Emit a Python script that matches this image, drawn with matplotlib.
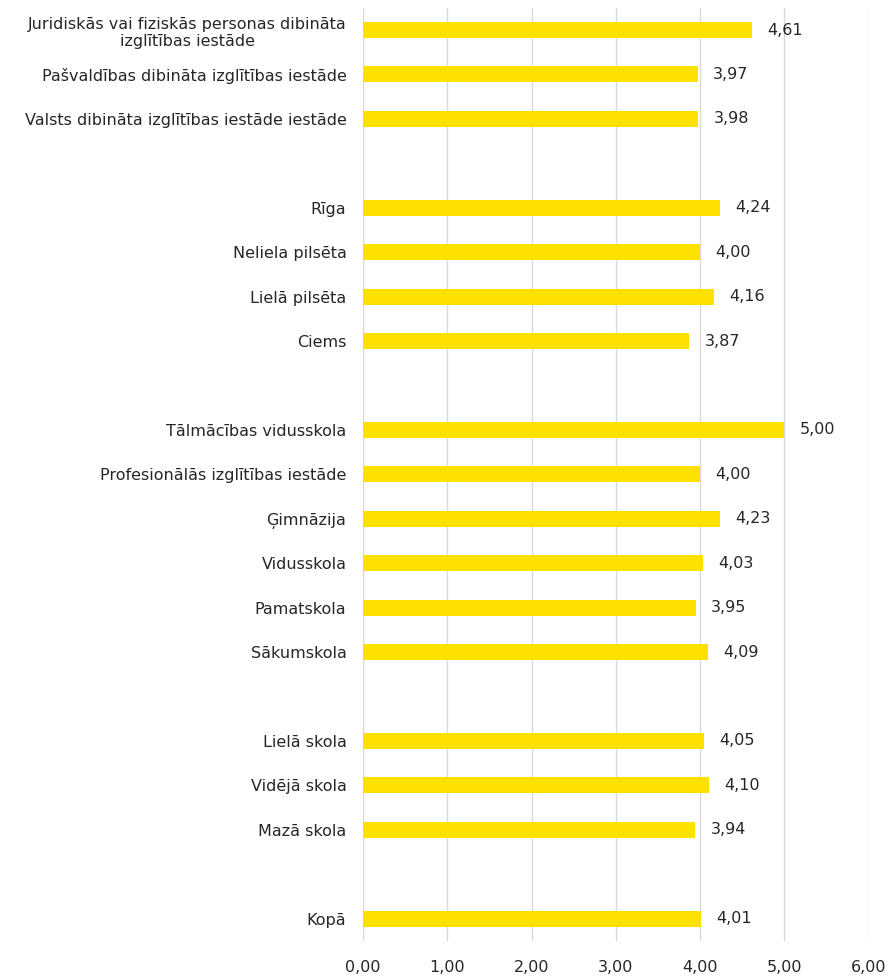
import matplotlib.pyplot as plt
import numpy as np

# categories top to bottom, None marks an empty gap row between groups
categories = [
    "Juridiskās vai fiziskās personas dibināta\nizglītības iestāde",
    "Pašvaldības dibināta izglītības iestāde",
    "Valsts dibināta izglītības iestāde iestāde",
    None,
    "Rīga",
    "Neliela pilsēta",
    "Lielā pilsēta",
    "Ciems",
    None,
    "Tālmācības vidusskola",
    "Profesionālās izglītības iestāde",
    "Ģimnāzija",
    "Vidusskola",
    "Pamatskola",
    "Sākumskola",
    None,
    "Lielā skola",
    "Vidējā skola",
    "Mazā skola",
    None,
    "Kopā",
]
values = [4.61, 3.97, 3.98, None,
          4.24, 4.00, 4.16, 3.87, None,
          5.00, 4.00, 4.23, 4.03, 3.95, 4.09, None,
          4.05, 4.10, 3.94, None,
          4.01]
x_ticks = [0, 1, 2, 3, 4, 5, 6]

plt.rcParams['font.family'] = ['DejaVu Sans']

fig = plt.figure(figsize=(8.9, 9.77), dpi=100)
ax = fig.add_axes([0.408, 0.037, 0.568, 0.955])

pos = [i for i, c in enumerate(categories) if c is not None]
labels = [categories[i] for i in pos]
vals = [values[i] for i in pos]

ax.barh(pos, vals, height=0.36, color="#FFE100", zorder=3)
for p, v in zip(pos, vals):
    ax.annotate(f"{v:.2f}".replace(".", ","), (v, p), xytext=(11, 0),
                textcoords="offset points", va="center", ha="left",
                fontsize=11.5, color="#262626")

ax.set_ylim(len(categories) - 0.5, -0.5)
ax.set_xlim(0, 6)
ax.set_xticks(x_ticks)
ax.set_xticklabels([f"{t:.2f}".replace(".", ",") for t in x_ticks])
ax.set_yticks(pos)
ax.set_yticklabels(labels)
for lab in ax.get_yticklabels():
    lab.set_multialignment("center")

ax.tick_params(axis="both", length=0, labelsize=11.5, colors="#262626")
ax.tick_params(axis="x", pad=14)
ax.tick_params(axis="y", pad=12)
ax.grid(axis="x", color="#d9d9d9", linewidth=1, zorder=0)
for s in ax.spines.values():
    s.set_visible(False)

fig.savefig("out.png", dpi=100)
